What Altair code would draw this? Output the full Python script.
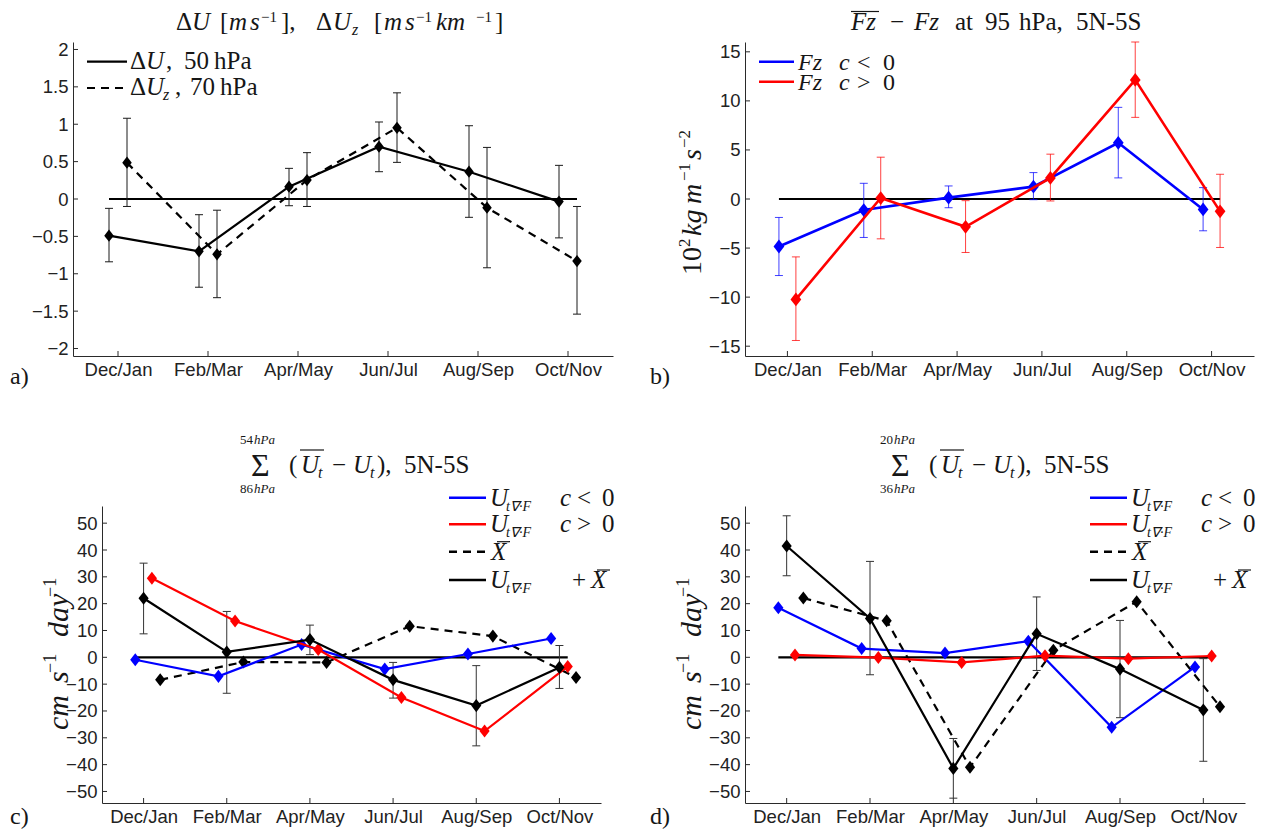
import json
import altair as alt
import pandas as pd

# ---------------- data ----------------
months = ["Dec/Jan", "Feb/Mar", "Apr/May", "Jun/Jul", "Aug/Sep", "Oct/Nov"]

# (a) dU at 50 hPa (solid) and dUz at 70 hPa (dashed)
du50 = [-0.49, -0.70, 0.165, 0.70, 0.365, -0.035]
du50_hi = [-0.125, -0.21, 0.41, 1.03, 0.98, 0.45]
du50_lo = [-0.84, -1.18, -0.09, 0.365, -0.245, -0.52]
duz70 = [0.486, -0.74, 0.254, 0.953, -0.116, -0.83]
duz70_hi = [1.08, -0.15, 0.62, 1.42, 0.69, -0.10]
duz70_lo = [-0.10, -1.32, -0.10, 0.49, -0.92, -1.54]

# (b) Fz anomaly at 95 hPa
fz_neg = [-4.84, -1.13, 0.14, 1.26, 5.73, -1.06]
fz_neg_hi = [-1.88, 1.6, 1.33, 2.69, 9.34, 1.16]
fz_neg_lo = [-7.8, -3.92, -0.89, -0.07, 2.15, -3.24]
fz_pos = [-10.23, 0.1, -2.83, 2.15, 12.14, -1.26]
fz_pos_hi = [-5.9, 4.26, -0.17, 4.57, 16.0, 2.52]
fz_pos_lo = [-14.42, -4.06, -5.45, -0.2, 8.32, -4.94]

# (c) 86-54 hPa
c_neg = [-0.9, -7.1, 4.75, -4.4, 1.25, 7.0]
c_pos = [29.5, 13.5, 2.9, -15.0, -27.5, -3.4]
c_xbar = [-8.4, -1.75, -1.9, 11.6, 7.9, -7.5]
c_sum = [22.0, 2.0, 6.6, -8.4, -18.0, -3.75]
c_sum_hi = [35.1, 17.1, 12.0, -1.9, -3.1, 4.4]
c_sum_lo = [8.75, -13.4, 1.0, -15.2, -33.0, -11.6]

# (d) 36-20 hPa
d_neg = [18.5, 3.25, 1.6, 6.0, -26.1, -3.6]
d_pos = [0.9, -0.1, -1.9, 0.6, -0.5, 0.5]
d_xbar = [22.1, 13.6, -41.0, 2.6, 20.75, -18.4]
d_sum = [41.5, 14.5, -41.4, 8.75, -4.4, -19.6]
d_sum_hi = [52.75, 35.75, -30.25, 22.5, 13.75, -0.5]
d_sum_lo = [30.4, -6.5, -52.5, -4.9, -22.5, -38.75]

a_ticks = [-2, -1.5, -1, -0.5, 0, 0.5, 1, 1.5, 2]
b_ticks = [-15, -10, -5, 0, 5, 10, 15]
cd_ticks = [-50, -40, -30, -20, -10, 0, 10, 20, 30, 40, 50]

# ---------------- styling ----------------
SERIF = "Liberation Serif"
SANS = "Liberation Sans"
AXC = "#2a2a2a"
TXT = "#161616"
BLUE = "#0000ff"
RED = "#ff0000"
BLACK = "#000000"
DIAMOND = "M0,-1L0.78,0L0,1L-0.78,0Z"
DASH = [8, 6]
DUMMY = pd.DataFrame({"d": [0]})
TS = 25  # main math-text size

XSC = alt.Scale(domain=[0.5, 6.5], nice=False, zero=False)
XAX = alt.Axis(values=[1, 2, 3, 4, 5, 6], labelExpr=json.dumps(months) + "[round(datum.value) - 1]",
               title=None, grid=False, ticks=False, domainColor=AXC, domainWidth=1,
               labelFont=SANS, labelFontSize=18.5, labelColor="#222222", labelPadding=4,
               labelOverlap=False, labelFlush=False)


def xenc(f):
    return alt.X(f + ":Q", scale=XSC, axis=XAX)


def series(vals, off, lo=None, hi=None):
    df = pd.DataFrame({"m": list(range(1, 7)), "v": vals})
    df["xp"] = df["m"] + off
    if lo is not None:
        df["lo"] = lo
        df["hi"] = hi
    return df


class Panel:
    def __init__(self, w, h, ydom, yticks, yfmt, ox, oy):
        self.w, self.h, self.ox, self.oy = w, h, ox, oy
        self.ysc = alt.Scale(domain=ydom, nice=False, zero=False)
        self.yax = alt.Axis(values=yticks, format=yfmt, title=None, grid=False, ticks=False,
                            domainColor=AXC, domainWidth=1, labelFont=SANS, labelFontSize=18.5,
                            labelColor="#222222", labelPadding=5, labelOverlap=False, labelFlush=False)
        self.layers = []
        zl = pd.DataFrame({"x1": [0.9], "x2": [6.1], "y": [0.0]})
        self.layers.append(alt.Chart(zl).mark_rule(color=BLACK, strokeWidth=2.2).encode(
            x=xenc("x1"), x2="x2:Q", y=self.yenc("y")))
        yt = pd.DataFrame({"t": yticks})
        self.layers.append(alt.Chart(yt).mark_rule(color=AXC, strokeWidth=1).encode(
            y=self.yenc("t"), x=alt.value(0), x2=alt.value(5)))
        xt = pd.DataFrame({"t": [1, 2, 3, 4, 5, 6]})
        self.layers.append(alt.Chart(xt).mark_rule(color=AXC, strokeWidth=1).encode(
            x=xenc("t"), y=alt.value(h), y2=alt.value(h - 5)))

    def yenc(self, f):
        return alt.Y(f + ":Q", scale=self.ysc, axis=self.yax)

    def err(self, df, color, opacity=1.0, cap=4):
        base = alt.Chart(df)
        self.layers.append(base.mark_rule(color=color, strokeWidth=1, opacity=opacity).encode(
            x=xenc("xp"), y=self.yenc("lo"), y2="hi:Q"))
        for f in ("lo", "hi"):
            self.layers.append(base.mark_rule(color=color, strokeWidth=1, opacity=opacity,
                                              xOffset=-cap, x2Offset=cap).encode(
                x=xenc("xp"), x2="xp:Q", y=self.yenc(f)))

    def line(self, df, color, width=2, dash=None, size=140):
        kw = dict(color=color, strokeWidth=width)
        if dash:
            kw["strokeDash"] = dash
        self.layers.append(alt.Chart(df).mark_line(**kw).encode(x=xenc("xp"), y=self.yenc("v")))
        self.layers.append(alt.Chart(df).mark_point(shape=DIAMOND, filled=True, size=size, color=color,
                                                    opacity=1).encode(x=xenc("xp"), y=self.yenc("v")))

    def txt(self, s, x, y, size=TS, it=False, color=TXT, angle=0, font=SERIF):
        kw = dict(text=s, font=font, fontSize=size, color=color, align="left", baseline="alphabetic")
        if it:
            kw["fontStyle"] = "italic"
        if angle:
            kw["angle"] = angle
        self.layers.append(alt.Chart(DUMMY).mark_text(**kw).encode(
            x=alt.value(x - self.ox), y=alt.value(y - self.oy)))

    def hrule(self, x1, x2, y, color=BLACK, width=2.2, dash=None, opacity=1.0):
        kw = dict(color=color, strokeWidth=width, opacity=opacity)
        if dash:
            kw["strokeDash"] = dash
        self.layers.append(alt.Chart(DUMMY).mark_rule(**kw).encode(
            x=alt.value(x1 - self.ox), x2=alt.value(x2 - self.ox),
            y=alt.value(y - self.oy), y2=alt.value(y - self.oy)))

    def anchor(self, x, y):
        self.hrule(x, x + 0.5, y, width=0.1, opacity=0)

    def chart(self):
        return alt.layer(*self.layers).properties(width=self.w, height=self.h)


# ---------------- panel a ----------------
pa = Panel(540, 314, [-2.1, 2.1], a_ticks, "~g", 73, 42)
pa.anchor(8, 8)      # top-left of the page content
pa.anchor(8, 392)    # bottom of the first row
s1 = series(du50, -0.1, du50_lo, du50_hi)
s2 = series(duz70, 0.1, duz70_lo, duz70_hi)
pa.err(s1, "#1a1a1a")
pa.err(s2, "#1a1a1a")
pa.line(s1, BLACK, 2.2, size=150)
pa.line(s2, BLACK, 2.2, DASH, size=150)
tb = 30
sup = 22
for s, x, y, sz, it in [("Δ", 176, tb, TS, False), ("U", 192, tb, TS, True), ("[", 220, tb, TS, False),
                        ("m", 229, tb, TS, True), ("s", 250, tb, TS, True), ("−1", 261, sup, 15, False),
                        ("],", 281, tb, TS, False), ("Δ", 316, tb, TS, False), ("U", 333, tb, TS, True),
                        ("z", 352, tb + 5, 16, True), ("[", 374, tb, TS, False), ("m", 384, tb, TS, True),
                        ("s", 405, tb, TS, True), ("−1", 416, sup, 15, False), ("km", 436, tb, TS, True),
                        ("−1", 476, sup, 15, False), ("]", 495, tb, TS, False)]:
    pa.txt(s, x, y, sz, it)
pa.hrule(87, 127, 61.7, width=2.2)
pa.hrule(87, 127, 88, width=2.2, dash=DASH)
for s, x, y, sz, it in [("Δ", 130, 69, TS, False), ("U", 146, 69, TS, True), (",", 166, 69, TS, False),
                        ("50", 184, 69, TS, False), ("hPa", 214, 69, TS, False),
                        ("Δ", 130, 95, TS, False), ("U", 146, 95, TS, True), ("z", 163, 100, 16, True),
                        (",", 175, 95, TS, False), ("70", 190, 95, TS, False), ("hPa", 220, 95, TS, False)]:
    pa.txt(s, x, y, sz, it)
pa.txt("a)", 10, 384, 24)

# ---------------- panel b ----------------
pb = Panel(509, 314, [-16, 16], b_ticks, "d", 745, 42)
b1 = series(fz_neg, -0.1, fz_neg_lo, fz_neg_hi)
b2 = series(fz_pos, 0.1, fz_pos_lo, fz_pos_hi)
pb.err(b1, BLUE, 0.75)
pb.err(b2, RED, 0.75)
pb.line(b1, BLUE, 2.6, size=190)
pb.line(b2, RED, 2.6, size=190)
for s, x, it in [("Fz", 851, True), ("−", 890, False), ("Fz", 914, True), ("at", 955, False),
                 ("95", 985, False), ("hPa,", 1019, False), ("5N-5S", 1076, False)]:
    pb.txt(s, x, tb, TS, it)
pb.hrule(851, 879, 11.5, color=TXT, width=1.2)
pb.hrule(759, 794, 61.7, color=BLUE, width=2.6)
pb.hrule(759, 794, 81.7, color=RED, width=2.6)
for rel, yb in (("<", 70), (">", 90)):
    pb.txt("Fz", 798, yb, 24, True)
    pb.txt("c", 839, yb, 24, True)
    pb.txt(rel, 857, yb, 24)
    pb.txt("0", 883, yb, 24)
for s, x, y, sz, it in [("10", 701, 275, 28, False), ("2", 690, 247, 17, False), ("kg", 701, 236, 28, True),
                        ("m", 701, 204, 28, True), ("−1", 690, 181, 17, False), ("s", 701, 160, 28, True),
                        ("−2", 690, 148, 17, False)]:
    pb.txt(s, x, y, sz, it, angle=270)
pb.txt("b)", 650, 384, 24)


# ---------------- panels c and d ----------------
def lower_panel(ox, w, neg, pos, xbar, tot, tot_lo, tot_hi, top_lim, bot_lim, shift, ylab_x, tag, tag_x):
    p = Panel(w, 297, [-54.3, 56.4], cd_ticks, "d", ox, 506)
    sn = series(neg, -0.1)
    sp = series(pos, 0.1)
    sx = series(xbar, 0.2)
    st = series(tot, 0.0, tot_lo, tot_hi)
    p.err(st, "#333333")
    p.line(sx, BLACK, 2.2, DASH, size=170)
    p.line(sn, BLUE, 2.2, size=170)
    p.line(sp, RED, 2.2, size=170)
    p.line(st, BLACK, 2.2, size=170)
    p.txt("Σ", 251 + shift, 476, 32)
    p.txt(top_lim[:2], 240 + shift, 444, 13)
    p.txt(top_lim[2:], 254 + shift, 444, 13, True)
    p.txt(bot_lim[:2], 240 + shift, 493, 13)
    p.txt(bot_lim[2:], 254 + shift, 493, 13, True)
    mb = 473
    for s, x, y, sz, it in [("(", 289, mb, TS, False), ("U", 301, mb, TS, True), ("t", 318, mb + 5, 16, True),
                            ("−", 332, mb, TS, False), ("U", 353, mb, TS, True), ("t", 370, mb + 5, 16, True),
                            ("),", 377, mb, TS, False), ("5N-5S", 404, mb, TS, False)]:
        p.txt(s, x + shift, y, sz, it)
    p.hrule(300 + shift, 324 + shift, 450, color=TXT, width=1.2)
    lx = 449 + shift + (1 if shift else 0)
    rows = [(497.7, BLUE, None, "<"), (524.3, RED, None, ">"), (551.7, BLACK, DASH, "X"), (580, BLACK, None, "+")]
    for L, col, dash, kind in rows:
        p.hrule(lx, lx + 37, L, color=col, width=2.6, dash=dash)
        if kind == "X":
            p.txt("X", lx + 42, L + 8, TS, True)
            p.hrule(lx + 48, lx + 61, L - 10, color=TXT, width=1.2)
            continue
        p.txt("U", lx + 41, L + 8, TS, True)
        p.txt("t∇·F", lx + 57, L + 13, 14, True)
        if kind == "+":
            p.txt("+", lx + 123, L + 8, TS)
            p.txt("X", lx + 142, L + 8, TS, True)
            p.hrule(lx + 148, lx + 161, L - 10, color=TXT, width=1.2)
        else:
            p.txt("c", lx + 111, L + 8, TS, True)
            p.txt(kind, lx + 128, L + 8, TS)
            p.txt("0", lx + 153, L + 8, TS)
    for s, dx, y, sz, it in [("cm", 0, 730, 30, True), ("s", 0, 683, 30, True), ("−1", -12, 673, 18, False),
                             ("day", 0, 637, 30, True), ("−1", -12, 597, 18, False)]:
        p.txt(s, ylab_x + dx, y, sz, it, angle=270)
    p.txt(tag, tag_x, 824, 24)
    return p


pc = lower_panel(102, 499, c_neg, c_pos, c_xbar, c_sum, c_sum_lo, c_sum_hi, "54hPa", "86hPa", 0, 68, "c)", 10)
pc.anchor(8, 430)    # top-left of the second row
pd_ = lower_panel(745, 500, d_neg, d_pos, d_xbar, d_sum, d_sum_lo, d_sum_hi, "20hPa", "36hPa", 640, 701, "d)", 650)

# invisible 1px spacer that pushes panel c 29px to the right of panel a
spacer = alt.Chart(DUMMY).mark_point(opacity=0, size=1).encode(
    x=alt.value(0), y=alt.value(0)).properties(width=1, height=1)

row1 = alt.hconcat(pa.chart(), pb.chart(), spacing=132, bounds="flush")
row2 = alt.hconcat(spacer, alt.hconcat(pc.chart(), pd_.chart(), spacing=144, bounds="flush"),
                   spacing=28, bounds="flush")
chart = alt.vconcat(row1, row2, spacing=38).properties(
    padding={"left": 0, "top": 0, "right": 0, "bottom": 0}
).configure_view(stroke=None)

chart.save("out.html", embed_options={"renderer": "svg", "actions": False})
